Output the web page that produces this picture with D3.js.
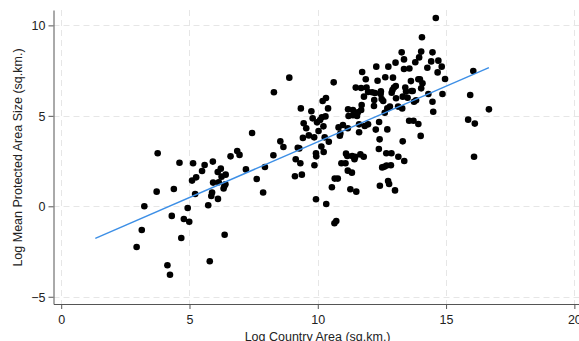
<!DOCTYPE html>
<html>
<head>
<meta charset="utf-8">
<script src="https://cdn.jsdelivr.net/npm/d3@7"></script>
<style>
html,body{margin:0;padding:0;background:#fff;}
svg{display:block;}
</style>
</head>
<body>
<svg id="chart" width="579" height="341"></svg>
<script>
// Log country area (x) and log mean protected area size (y)
const logArea = [2.94,3.14,3.24,3.72,3.76,4.14,4.24,4.31,4.39,4.61,4.68,4.78,4.93,4.99,5.10,5.14,5.22,5.26,5.49,5.59,
5.73,5.79,5.85,5.88,5.91,5.92,6.10,6.11,6.14,6.22,6.25,6.33,6.37,6.36,6.41,6.40,6.60,6.86,6.95,7.20,
7.44,7.62,7.87,7.94,8.27,8.29,8.54,8.66,8.89,9.14,9.11,9.22,9.28,9.32,9.34,9.38,9.45,9.42,9.55,9.65,
9.75,9.80,9.86,9.87,9.93,9.93,9.94,9.97,10.03,10.09,10.14,10.16,10.19,10.22,10.23,10.27,10.30,10.32,10.33,10.40,
10.43,10.55,10.62,10.65,10.72,10.66,10.78,10.81,10.86,10.88,10.92,10.98,11.08,11.10,11.15,11.17,11.17,11.18,11.20,11.27,
11.33,11.34,11.37,11.37,11.43,11.46,11.48,11.50,11.53,11.56,11.61,11.61,11.66,11.69,11.69,11.71,11.73,11.79,11.80,11.83,
11.87,11.90,11.96,11.96,12.12,12.19,12.20,12.23,12.26,12.28,12.33,12.38,12.39,12.41,12.42,12.45,12.46,12.49,12.51,12.55,
12.59,12.61,12.63,12.67,12.68,12.71,12.71,12.74,12.75,12.78,12.81,12.87,12.88,12.85,12.91,12.93,12.97,13.01,13.03,13.04,
13.05,13.13,13.14,13.27,13.29,13.31,13.31,13.36,13.36,13.37,13.41,13.44,13.50,13.56,13.57,13.63,13.65,13.70,13.73,13.75,
13.80,13.83,13.92,13.92,13.95,13.98,14.01,14.03,14.03,14.06,14.08,14.27,14.31,14.42,14.47,14.47,14.50,14.60,14.67,14.70,
14.83,14.86,14.96,15.86,15.94,16.06,16.09,16.12,16.67];
const logPASize = [-2.25,-1.31,0.00,0.81,2.93,-3.26,-3.78,-0.53,0.96,2.41,-1.75,-0.70,-0.09,-0.85,1.42,2.38,0.68,1.60,1.95,2.28,
0.06,-3.04,0.57,0.76,2.47,1.31,1.90,0.41,1.33,2.08,1.64,0.98,-1.57,1.12,1.75,1.22,2.76,3.06,2.84,2.04,
4.05,1.51,0.76,2.17,2.82,6.30,3.59,3.28,7.11,2.60,1.66,3.24,3.20,2.38,5.41,1.75,4.59,3.78,4.31,3.92,
5.25,4.86,3.81,2.27,0.39,2.93,2.76,4.64,4.16,4.77,3.30,4.92,5.82,4.42,3.00,3.81,4.97,5.99,0.13,5.41,
3.57,1.05,6.85,-0.94,-0.81,1.53,1.53,4.36,3.90,4.02,2.38,4.49,2.38,2.91,2.78,4.31,1.97,5.36,4.99,0.94,
1.86,2.78,5.32,5.03,2.60,2.74,6.56,0.81,4.99,5.19,4.53,4.09,2.87,6.54,5.32,5.60,7.42,2.74,6.06,4.44,
7.02,6.56,6.32,4.53,6.30,5.54,5.87,6.26,4.24,7.72,6.94,3.17,4.66,3.70,1.14,6.21,6.35,5.93,2.15,5.82,
2.19,5.17,7.13,2.93,2.25,4.25,5.41,1.40,7.72,1.23,5.51,2.93,6.28,2.27,6.43,7.11,6.57,0.88,7.94,6.65,
5.97,5.51,2.74,8.51,5.41,3.59,6.06,8.12,7.59,2.50,6.57,6.34,6.00,4.73,7.62,6.92,6.37,6.37,4.73,5.78,
7.96,5.86,7.02,4.55,8.23,7.02,3.89,8.55,6.52,9.34,6.80,7.66,6.21,8.01,8.51,5.78,5.23,10.41,7.40,8.05,
7.72,6.21,7.04,4.79,6.15,7.48,2.74,4.57,5.36];

// Linear fit shown in the picture
const fitRange = [1.33, 16.67];
const fitIntercept = -2.59;
const fitSlope = 0.6155;

const xTicks = [0, 5, 10, 15, 20];
const yTicks = [-5, 0, 5, 10];
const xTitle = "Log Country Area (sq.km.)";
const yTitle = "Log Mean Protected Area Size (sq.km.)";

const svg = d3.select("#chart");
const font = "'Liberation Sans', Arial, sans-serif";

const x = d3.scaleLinear().domain([-0.3, 20.2]).range([53.5, 579.5]);
const y = d3.scaleLinear().domain([-5.4, 10.85]).range([304, 10]);

// gridlines
const grid = svg.append("g").attr("stroke", "#e6e6e6").attr("stroke-width", 1).attr("stroke-dasharray", "6,4");
grid.selectAll("line.v").data(xTicks).join("line")
  .attr("x1", d => Math.round(x(d)) + 0.5).attr("x2", d => Math.round(x(d)) + 0.5)
  .attr("y1", y.range()[1]).attr("y2", y.range()[0]);
grid.selectAll("line.h").data(yTicks).join("line")
  .attr("y1", d => Math.round(y(d)) + 0.5).attr("y2", d => Math.round(y(d)) + 0.5)
  .attr("x1", x.range()[0]).attr("x2", x.range()[1]);

// points
svg.append("g").selectAll("circle").data(logArea).join("circle")
  .attr("cx", (d) => x(d))
  .attr("cy", (d, i) => y(logPASize[i]))
  .attr("r", 3.3)
  .attr("fill", "#000");

// fit line
const line = d3.line().x(d => x(d)).y(d => y(fitIntercept + fitSlope * d));
svg.append("path").datum(fitRange).attr("d", line)
  .attr("fill", "none").attr("stroke", "#3d8fe6").attr("stroke-width", 1.4);

// axes
const xAxis = svg.append("g").attr("transform", "translate(0,304)")
  .call(d3.axisBottom(x).tickValues(xTicks).tickSize(5).tickSizeOuter(0).tickPadding(6).tickFormat(d3.format("d")));
const yAxis = svg.append("g").attr("transform", "translate(53.5,0)")
  .call(d3.axisLeft(y).tickValues(yTicks).tickSize(5).tickSizeOuter(0).tickPadding(3).tickFormat(d3.format("d")));
[xAxis, yAxis].forEach(a => {
  a.selectAll("path.domain").attr("stroke", "#555");
  a.selectAll(".tick line").attr("stroke", "#555");
  a.selectAll("text").attr("font-family", font).attr("font-size", 12.5).attr("fill", "#222");
});
yAxis.selectAll("text").attr("dy", "0.34em");

// titles
svg.append("text").attr("x", 317.6).attr("y", 340.5).attr("text-anchor", "middle")
  .attr("font-family", font).attr("font-size", 12.5).attr("fill", "#222").text(xTitle);
svg.append("text").attr("transform", "translate(22,157.5) rotate(-90)").attr("text-anchor", "middle")
  .attr("font-family", font).attr("font-size", 12.5).attr("fill", "#222").text(yTitle);
</script>
</body>
</html>
